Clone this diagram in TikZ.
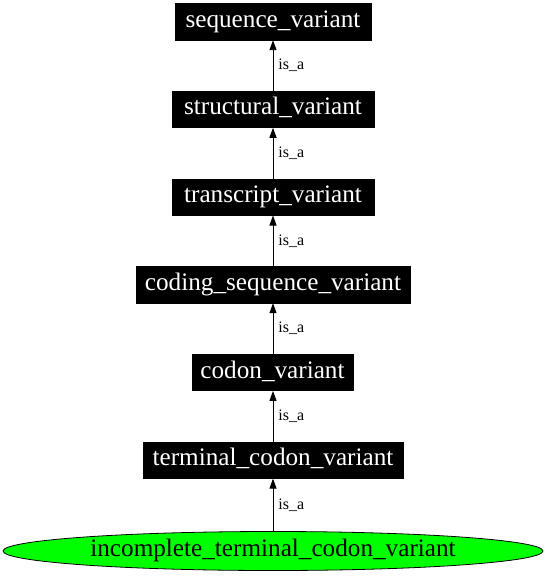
\documentclass[tikz,border=0pt]{standalone}
\usepackage{fontspec}
\setmainfont{Liberation Serif}
\usetikzlibrary{arrows.meta,shapes.geometric}
\definecolor{leafgreen}{HTML}{00FF00}
\tikzset{
  termbox/.style={rectangle, fill=black, draw=black, line width=0.5bp, text=white,
    inner sep=0pt, minimum height=36.5bp,
    font=\fontsize{25.2bp}{30bp}\selectfont, text height=17.6bp, text depth=6.4bp},
  leaf/.style={ellipse, fill=leafgreen, draw=black, line width=0.8bp, text=black,
    inner sep=0pt, minimum width=540bp, minimum height=39bp,
    font=\fontsize{25.2bp}{30bp}\selectfont, text height=17.6bp, text depth=6.4bp},
  isa/.style={-{Triangle[length=10bp,width=7bp]}, line width=0.9bp, draw=black},
  lbl/.style={font=\fontsize{16bp}{19bp}\selectfont, anchor=west, inner sep=0pt, xshift=5bp}
}
\begin{document}
\begin{tikzpicture}[x=1bp,y=-1bp]
  \useasboundingbox (0,0) rectangle (546,576);
  \node[termbox, minimum width=196bp]   (sv)  at (273,21.7)  {sequence\_variant};
  \node[termbox, minimum width=202bp]   (stv) at (273,109.3) {structural\_variant};
  \node[termbox, minimum width=202.5bp] (tv)  at (273,197)   {transcript\_variant};
  \node[termbox, minimum width=274bp]   (csv) at (273,284.7) {coding\_sequence\_variant};
  \node[termbox, minimum width=161bp]   (cv)  at (272.5,372.4) {codon\_variant};
  \node[termbox, minimum width=259.5bp] (tcv) at (273,460.1) {terminal\_codon\_variant};
  \node[leaf] (itcv) at (273,551) {incomplete\_terminal\_codon\_variant};

  \draw[isa] (stv.north) -- node[lbl]{is\_a} (sv.south);
  \draw[isa] (tv.north)  -- node[lbl]{is\_a} (stv.south);
  \draw[isa] (csv.north) -- node[lbl]{is\_a} (tv.south);
  \draw[isa] (cv.north -| csv.south) -- node[lbl]{is\_a} (csv.south);
  \draw[isa] (tcv.north) -- node[lbl]{is\_a} (cv.south -| tcv.north);
  \draw[isa] (itcv.north) -- node[lbl]{is\_a} (tcv.south);
\end{tikzpicture}
\end{document}
